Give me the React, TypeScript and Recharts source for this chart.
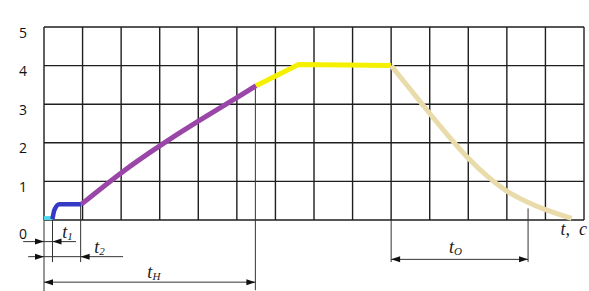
import React from 'react';
import {
  LineChart,
  Line,
  XAxis,
  YAxis,
  CartesianGrid,
  ReferenceLine,
  ReferenceDot,
} from 'recharts';

// grid ticks
const xTicks = [0, 1, 2, 3, 4, 5, 6, 7, 8, 9, 10, 11, 12, 13, 14];
const yTicks = [0, 1, 2, 3, 4, 5];

// curve pieces (x in grid cells, y in units)
const cyanPart = [
  { x: 0, y: 0.05 },
  { x: 0.22, y: 0.05 },
];
const bluePart = [
  { x: 0.22, y: 0.02 },
  { x: 0.27, y: 0.26 },
  { x: 0.4, y: 0.41 },
  { x: 0.97, y: 0.41 },
];
const purplePart = [
  { x: 0.97, y: 0.41 },
  { x: 2, y: 1.22 },
  { x: 3, y: 1.92 },
  { x: 4, y: 2.56 },
  { x: 5, y: 3.17 },
  { x: 5.5, y: 3.48 },
];
const yellowPart = [
  { x: 5.5, y: 3.48 },
  { x: 6.6, y: 4.03 },
  { x: 9, y: 4.0 },
];
const tanPart = [
  { x: 9, y: 4.0 },
  { x: 9.5, y: 3.38 },
  { x: 10, y: 2.76 },
  { x: 10.5, y: 2.16 },
  { x: 11, y: 1.6 },
  { x: 11.5, y: 1.13 },
  { x: 12, y: 0.75 },
  { x: 12.5, y: 0.48 },
  { x: 13, y: 0.27 },
  { x: 13.68, y: 0.04 },
];

// dimension annotations
const extLines = [
  { x: 0, from: 0, to: -1.85 },
  { x: 0.22, from: 0, to: -1.09 },
  { x: 0.95, from: 0.41, to: -1.09 },
  { x: 5.48, from: 3.48, to: -1.82 },
  { x: 9, from: 0, to: -1.09 },
  { x: 12.55, from: 0.3, to: -1.09 },
];
const dimLines = [
  { y: -0.56, from: -0.54, to: 0.83 },
  { y: -0.95, from: -0.41, to: 2.05 },
  { y: -1.61, from: 0, to: 5.48 },
  { y: -1.02, from: 9, to: 12.55 },
];
const arrows = [
  { x: 0, y: -0.56, dir: 'right' },
  { x: 0.22, y: -0.56, dir: 'left' },
  { x: 0, y: -0.95, dir: 'right' },
  { x: 0.95, y: -0.95, dir: 'left' },
  { x: 0, y: -1.61, dir: 'left' },
  { x: 5.48, y: -1.61, dir: 'right' },
  { x: 9, y: -1.02, dir: 'left' },
  { x: 12.55, y: -1.02, dir: 'right' },
];
const dimLabels = [
  { x: 0.47, y: -0.47, main: 't', sub: '1', anchor: 'start' },
  { x: 1.3, y: -0.855, main: 't', sub: '2', anchor: 'start' },
  { x: 2.68, y: -1.5, main: 't', sub: 'H', anchor: 'start' },
  { x: 10.5, y: -0.855, main: 't', sub: 'O', anchor: 'start' },
  { x: 14.08, y: -0.39, main: 't,  c', sub: '', anchor: 'end' },
];

const serif = '"Liberation Serif", "Times New Roman", serif';

const YTick = (props: any) => {
  const { y, payload } = props;
  const v = payload.value;
  return (
    <text
      x={23}
      y={y + (v === 0 ? 13 : 5)}
      textAnchor="middle"
      dominantBaseline="central"
      fontFamily='"Open Sans", "Liberation Sans", sans-serif'
      fontSize={14}
      fill="#111"
    >
      {v}
    </text>
  );
};

const Arrow = (dir: string) => (props: any) => {
  const { cx, cy } = props;
  const k = dir === 'right' ? -1 : 1;
  return (
    <polygon
      points={`${cx},${cy} ${cx + k * 9},${cy - 3} ${cx + k * 9},${cy + 3}`}
      fill="#111"
    />
  );
};

const DimText = (main: string, sub: string, anchor: string) => (props: any) => {
  const { cx, cy } = props;
  return (
    <text
      x={cx}
      y={cy}
      textAnchor={anchor}
      fontFamily={serif}
      fontStyle="italic"
      fontSize={18}
      fill="#1a1a1a"
      style={{ whiteSpace: 'pre' }}
    >
      {main}
      {sub && (
        <tspan fontSize={11} dy={2}>
          {sub}
        </tspan>
      )}
    </text>
  );
};

const thinLine = (props: any) => (
  <line x1={props.x1} y1={props.y1} x2={props.x2} y2={props.y2} stroke="#333" strokeWidth={1} />
);

const App: React.FC = () => {
  return (
    <div style={{ position: 'fixed', top: 0, left: 0, width: 589, height: 291, background: '#fff' }}>
      <LineChart width={589} height={291} margin={{ top: 27, right: 5, bottom: 71, left: 0 }}>
        <CartesianGrid stroke="#1e1e1e" strokeWidth={1.4} />
        <XAxis type="number" dataKey="x" domain={[0, 14]} ticks={xTicks} hide />
        <YAxis
          type="number"
          domain={[0, 5]}
          ticks={yTicks}
          width={44}
          axisLine={false}
          tickLine={false}
          tick={<YTick />}
        />
        {extLines.map((e, i) => (
          <ReferenceLine
            key={'e' + i}
            ifOverflow="visible"
            segment={[
              { x: e.x, y: e.from },
              { x: e.x, y: e.to },
            ]}
            shape={thinLine}
          />
        ))}
        {dimLines.map((d, i) => (
          <ReferenceLine
            key={'d' + i}
            ifOverflow="visible"
            segment={[
              { x: d.from, y: d.y },
              { x: d.to, y: d.y },
            ]}
            shape={thinLine}
          />
        ))}
        <Line data={cyanPart} dataKey="y" type="linear" stroke="#4fd8ea" strokeWidth={4} dot={false} isAnimationActive={false} />
        <Line data={bluePart} dataKey="y" type="monotone" stroke="#3439c6" strokeWidth={4.5} dot={false} isAnimationActive={false} />
        <Line data={purplePart} dataKey="y" type="natural" stroke="#9a46a8" strokeWidth={5} dot={false} isAnimationActive={false} />
        <Line data={yellowPart} dataKey="y" type="linear" stroke="#f4f000" strokeWidth={5} dot={false} isAnimationActive={false} />
        <Line data={tanPart} dataKey="y" type="natural" stroke="#e9dcaa" strokeWidth={5} dot={false} isAnimationActive={false} />
        {arrows.map((a, i) => (
          <ReferenceDot key={'a' + i} x={a.x} y={a.y} r={0} ifOverflow="visible" shape={Arrow(a.dir)} />
        ))}
        {dimLabels.map((l, i) => (
          <ReferenceDot
            key={'l' + i}
            x={l.x}
            y={l.y}
            r={0}
            ifOverflow="visible"
            shape={DimText(l.main, l.sub, l.anchor)}
          />
        ))}
      </LineChart>
    </div>
  );
};

export default App;
